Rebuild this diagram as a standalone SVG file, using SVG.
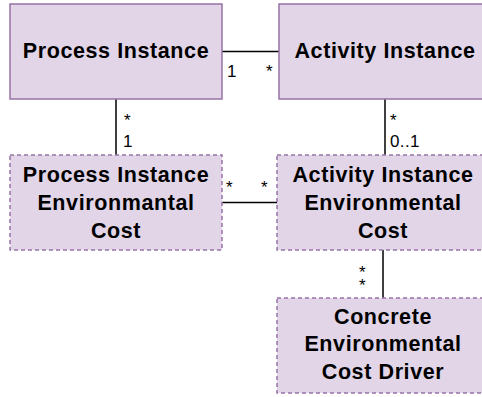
<svg xmlns="http://www.w3.org/2000/svg" width="482" height="397" viewBox="0 0 482 397">
<style>
.box{fill:#e1d5e7;stroke:#9673a6;stroke-width:1.5}
.dash{stroke-dasharray:4 3}
.t{font-family:"Liberation Sans",Arial,sans-serif;font-weight:bold;font-size:21.5px;fill:#000;text-anchor:middle;letter-spacing:0.6px}
.l{font-family:"Liberation Sans",Arial,sans-serif;font-size:17px;fill:#000;letter-spacing:0.4px}
.c{stroke:#000;stroke-width:1.5;fill:none}
</style>
<rect width="482" height="397" fill="#fff"/>
<g id="connectors">
<path class="c" d="M222 51.5H279"/>
<path class="c" d="M116 99V155"/>
<path class="c" d="M385 99V155"/>
<path class="c" d="M222 202.5H277"/>
<path class="c" d="M383 250V298"/>
<text class="l" x="227" y="77">1</text>
<text class="l" x="266" y="77">*</text>
<text class="l" x="124" y="126">*</text>
<text class="l" x="123" y="147">1</text>
<text class="l" x="390" y="126">*</text>
<text class="l" x="390" y="147">0..1</text>
<text class="l" x="226" y="193">*</text>
<text class="l" x="261" y="193">*</text>
<text class="l" x="359" y="278">*</text>
<text class="l" x="359" y="291">*</text>
</g>
<g id="process-instance">
<rect class="box" x="10" y="4" width="212" height="95"/>
<text class="t" x="116" y="57.5">Process Instance</text>
</g>
<g id="activity-instance">
<rect class="box" x="279" y="4" width="212" height="95"/>
<text class="t" x="385" y="57.5">Activity Instance</text>
</g>
<g id="process-instance-env-cost">
<rect class="box dash" x="10" y="155" width="212" height="95"/>
<text class="t" x="116" y="181.5">Process Instance</text>
<text class="t" x="116" y="209.5">Environmantal</text>
<text class="t" x="116" y="237.5">Cost</text>
</g>
<g id="activity-instance-env-cost">
<rect class="box dash" x="277" y="155" width="212" height="95"/>
<text class="t" x="383" y="181.5">Activity Instance</text>
<text class="t" x="383" y="209.5">Environmental</text>
<text class="t" x="383" y="237.5">Cost</text>
</g>
<g id="concrete-env-cost-driver">
<rect class="box dash" x="277" y="298" width="212" height="95"/>
<text class="t" x="383" y="324">Concrete</text>
<text class="t" x="383" y="351">Environmental</text>
<text class="t" x="383" y="378.5">Cost Driver</text>
</g>
</svg>
